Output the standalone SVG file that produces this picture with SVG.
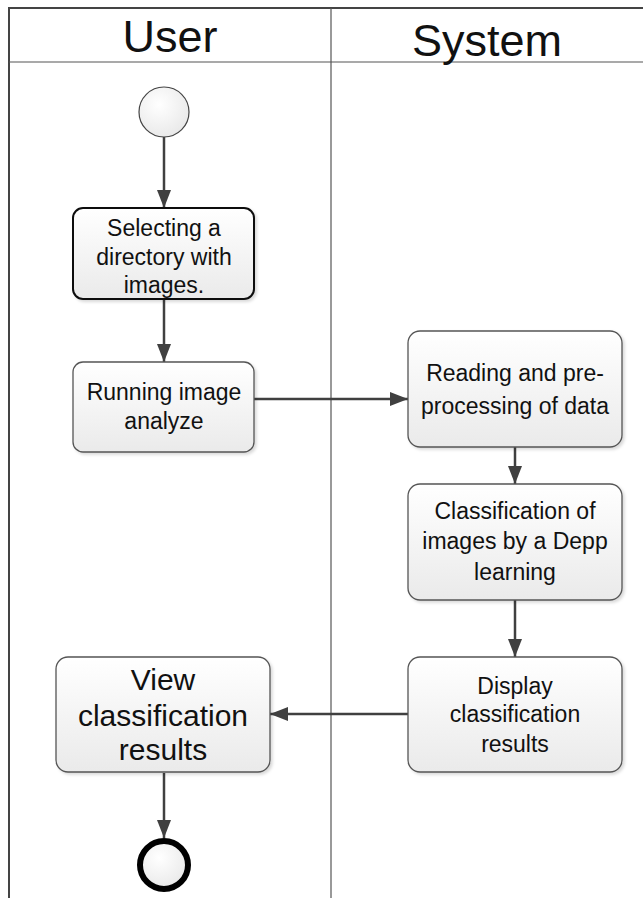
<svg xmlns="http://www.w3.org/2000/svg" width="643" height="898" viewBox="0 0 643 898">
<defs>
<linearGradient id="g" x1="0" y1="0" x2="0" y2="1">
<stop offset="0" stop-color="#ffffff"/>
<stop offset="1" stop-color="#eaeaea"/>
</linearGradient>
<radialGradient id="cg" cx="0.4" cy="0.35" r="0.7">
<stop offset="0" stop-color="#ffffff"/>
<stop offset="1" stop-color="#e8e8e8"/>
</radialGradient>
<marker id="ah" viewBox="0 0 18 14" refX="18" refY="7" markerWidth="18" markerHeight="14" markerUnits="userSpaceOnUse" orient="auto">
<path d="M0,0 L18,7 L0,14 Z" fill="#404040"/>
</marker>
<filter id="sh" x="-10%" y="-10%" width="125%" height="125%">
<feDropShadow dx="2" dy="2" stdDeviation="1.5" flood-color="#000" flood-opacity="0.15"/>
</filter>
</defs>
<style>
.lane{fill:none;stroke:#555;stroke-width:1.2}
.frame{fill:none;stroke:#444;stroke-width:2}
.box{fill:url(#g);stroke:#555;stroke-width:1.3;filter:url(#sh)}
.sel{fill:url(#g);stroke:#111;stroke-width:2;filter:url(#sh)}
.t{font-family:"Liberation Sans",Arial,sans-serif;font-size:23px;fill:#111;text-anchor:middle}
.tb{font-family:"Liberation Sans",Arial,sans-serif;font-size:30px;fill:#111;text-anchor:middle}
.h{font-family:"Liberation Sans",Arial,sans-serif;font-size:45px;fill:#111;text-anchor:middle}
.c{stroke:#404040;stroke-width:2.5;fill:none}
</style>
<rect x="0" y="0" width="643" height="898" fill="#ffffff"/>
<g id="lanes">
<path class="frame" d="M9,898 V8 H660"/>
<line class="lane" x1="9" y1="62" x2="643" y2="62"/>
<line class="lane" x1="331" y1="8" x2="331" y2="898"/>
<text class="h" x="170" y="52">User</text>
<text class="h" x="487" y="56">System</text>
</g>
<g id="connectors">
<line class="c" x1="164" y1="137" x2="164" y2="208" marker-end="url(#ah)"/>
<line class="c" x1="164" y1="299" x2="164" y2="362" marker-end="url(#ah)"/>
<line class="c" x1="254" y1="399" x2="408" y2="399" marker-end="url(#ah)"/>
<line class="c" x1="515" y1="447" x2="515" y2="484" marker-end="url(#ah)"/>
<line class="c" x1="515" y1="600" x2="515" y2="657" marker-end="url(#ah)"/>
<line class="c" x1="408" y1="714" x2="270" y2="714" marker-end="url(#ah)"/>
<line class="c" x1="164" y1="773" x2="164" y2="838" marker-end="url(#ah)"/>
</g>
<g id="start">
<circle cx="164" cy="112" r="25" fill="url(#cg)" stroke="#444" stroke-width="1.2"/>
</g>
<g id="select">
<rect class="sel" x="73" y="208" width="181" height="91" rx="10"/>
<text class="t" x="164" y="236">Selecting a</text>
<text class="t" x="164" y="265">directory with</text>
<text class="t" x="164" y="293">images.</text>
</g>
<g id="run">
<rect class="box" x="73" y="362" width="181" height="90" rx="10"/>
<text class="t" x="164" y="400">Running image</text>
<text class="t" x="164" y="429">analyze</text>
</g>
<g id="read">
<rect class="box" x="408" y="331" width="214" height="116" rx="12"/>
<text class="t" x="515" y="381">Reading and pre-</text>
<text class="t" x="515" y="414">processing of data</text>
</g>
<g id="classify">
<rect class="box" x="408" y="484" width="214" height="116" rx="12"/>
<text class="t" x="515" y="519">Classification of</text>
<text class="t" x="515" y="549">images by a Depp</text>
<text class="t" x="515" y="580">learning</text>
</g>
<g id="display">
<rect class="box" x="408" y="657" width="214" height="115" rx="12"/>
<text class="t" x="515" y="694">Display</text>
<text class="t" x="515" y="722">classification</text>
<text class="t" x="515" y="752">results</text>
</g>
<g id="view">
<rect class="box" x="56" y="657" width="214" height="115" rx="12"/>
<text class="tb" x="163" y="690">View</text>
<text class="tb" x="163" y="726">classification</text>
<text class="tb" x="163" y="760">results</text>
</g>
<g id="end">
<circle cx="164" cy="865" r="24" fill="url(#cg)" stroke="#000" stroke-width="6"/>
</g>
</svg>
